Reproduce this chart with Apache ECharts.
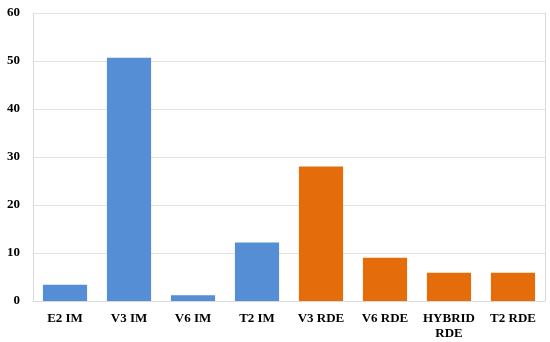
<!DOCTYPE html>
<html><head><meta charset="utf-8">
<script src="https://cdn.jsdelivr.net/npm/echarts@6/dist/echarts.min.js"></script>
<style>html,body{margin:0;padding:0;background:#fff}#c{width:550px;height:342px}</style>
</head><body><div id="c"></div>
<script>
var categories = ['E2 IM', 'V3 IM', 'V6 IM', 'T2 IM', 'V3 RDE', 'V6 RDE', 'HYBRID\nRDE', 'T2 RDE'];
var values = [3.4, 50.7, 1.2, 12.2, 28.0, 9.0, 5.9, 5.9];
var groups = ['IM', 'IM', 'IM', 'IM', 'RDE', 'RDE', 'RDE', 'RDE'];
var groupColors = { IM: '#558ED5', RDE: '#E46C0A' };
var yTicks = { min: 0, max: 60, interval: 10 };

var chart = echarts.init(document.getElementById('c'));
var font = { fontFamily: 'Liberation Serif', fontWeight: 'bold', fontSize: 13, color: '#000' };
chart.setOption({
  animation: false,
  grid: { left: 33, right: 5, top: 13, bottom: 41 },
  xAxis: {
    type: 'category', data: categories,
    axisLine: { lineStyle: { color: '#d9d9d9', width: 1 } },
    axisTick: { show: false },
    axisLabel: Object.assign({ margin: 10, lineHeight: 15, interval: 0 }, font)
  },
  yAxis: [{
    type: 'value', min: yTicks.min, max: yTicks.max, interval: yTicks.interval,
    axisLine: { show: true, lineStyle: { color: '#d9d9d9' } },
    axisTick: { show: false },
    splitLine: { lineStyle: { color: '#e3e3e3', width: 1 } },
    axisLabel: Object.assign({ margin: 13 }, font)
  }, {
    type: 'value', position: 'right', min: yTicks.min, max: yTicks.max, interval: yTicks.interval,
    axisLine: { show: true, lineStyle: { color: '#d9d9d9' } },
    axisTick: { show: false }, axisLabel: { show: false }, splitLine: { show: false }
  }],
  series: [{
    type: 'bar',
    barCategoryGap: '31%',
    data: values.map(function (v, i) {
      return { value: v, itemStyle: { color: groupColors[groups[i]] } };
    })
  }]
});
</script></body></html>
